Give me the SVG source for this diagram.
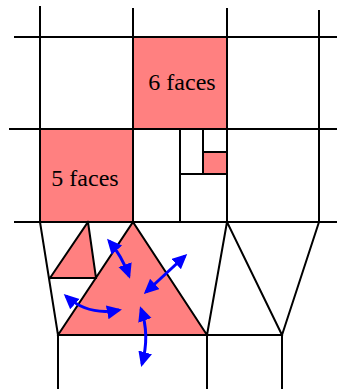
<svg xmlns="http://www.w3.org/2000/svg" width="337" height="389" viewBox="0 0 337 389">
<style>
.ln{stroke:#000;stroke-width:2;fill:none;stroke-linecap:square;stroke-linejoin:miter}
.pk{fill:#ff8080;stroke:none}
.lbl{font-family:"Liberation Serif","Times New Roman",serif;font-size:24px;fill:#000;text-anchor:middle}
.ar{stroke:#0000ff;stroke-width:3;fill:none;marker-start:url(#ah);marker-end:url(#ah)}
</style>
<defs>
<marker id="ah" markerUnits="userSpaceOnUse" markerWidth="18" markerHeight="18" refX="12" refY="7" orient="auto-start-reverse" viewBox="0 0 18 18">
<path d="M0,0 L15,7 L0,14 Z" fill="#0000ff"/>
</marker>
</defs>
<rect width="337" height="389" fill="#fff"/>
<g id="face6"><rect class="pk" x="133" y="37" width="94" height="92"/><text class="lbl" x="182" y="90">6 faces</text></g>
<g id="face5"><rect class="pk" x="40" y="129" width="93" height="93"/><text class="lbl" x="85" y="186">5 faces</text></g>
<g id="smallsq"><rect class="pk" x="203" y="152" width="24" height="22"/></g>
<g id="smalltri"><polygon class="pk" points="88,222 50,278 96,278"/></g>
<g id="bigtri"><polygon class="pk" points="133,222 58,335 207,335"/></g>
<g id="connectors">
<path class="ln" d="M15,37H337M10,129H337M15,222H337M58,335H282M180,174H227M203,152H227M50,278H96"/>
<path class="ln" d="M40,7V222M133,9V222M227,9V222M319,11V222M180,129V222M203,129V174M58,335V389M207,335V389M282,335V389"/>
<path class="ln" d="M40,222L58,335M88,222L96,278M88,222L50,278M133,222L58,335M133,222L207,335M227,222L207,335M227,222L282,335M319,222L282,335"/>
<path class="ar" d="M109,241 Q122,256 129,276"/>
<path class="ar" d="M185,256 L146,292"/>
<path class="ar" d="M66,296 Q88,316 119,310"/>
<path class="ar" d="M141,309 Q150,335 142,364"/>
</g>
</svg>
